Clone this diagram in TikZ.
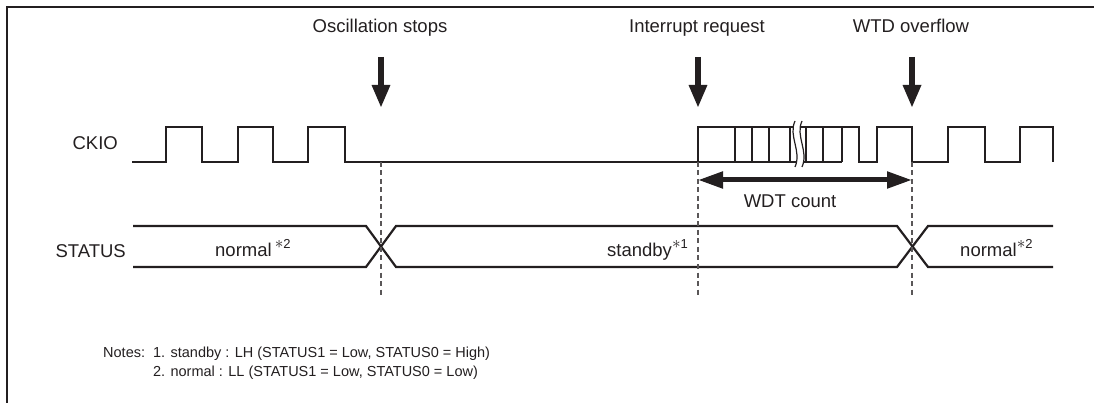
\documentclass[tikz,border=0pt]{standalone}
\usepackage{fontspec}
\setmainfont{Liberation Sans}
\usetikzlibrary{arrows.meta}
\definecolor{ink}{HTML}{231F20}
\newcommand{\notemark}[1]{\raisebox{0.42em}{{\fontsize{18}{18}\selectfont$\ast$}{\fontsize{13}{13}\selectfont #1}}}

\begin{document}
\begin{tikzpicture}[x=1pt, y=-1pt,
  wave/.style={draw=ink, line width=2.2pt},
  guide/.style={draw=ink!75, line width=1.2pt, dash pattern=on 5pt off 3.5pt},
  event/.style={draw=ink, line width=6pt,
                -{Triangle[length=23pt 0 0, width=17pt 0 0]}},
  span/.style={draw=ink, line width=5pt,
               {Triangle[length=25pt 0 0, width=16pt 0 0]}-{Triangle[length=25pt 0 0, width=16pt 0 0]}},
  every node/.style={text=ink, inner sep=0pt, font=\fontsize{18.5}{22}\selectfont}
]
  \useasboundingbox (0,0) rectangle (1094,403);

  % frame
  \draw[ink, line width=2.2pt] (1094,7) -- (7,7) -- (7,403);

  % event labels and arrows
  \node[anchor=base] (osc)  at (380,33) {Oscillation stops};
  \node[anchor=base] (irq)  at (697,33) {Interrupt request};
  \node[anchor=base] (wtd)  at (911,33) {WTD overflow};

  \coordinate (oscTop) at (381,57);  \coordinate (oscTip) at (381,108);
  \coordinate (irqTop) at (698,57);  \coordinate (irqTip) at (698,108);
  \coordinate (wtdTop) at (912,57);  \coordinate (wtdTip) at (912,108);

  \draw[event] (oscTop) -- (oscTip);
  \draw[event] (irqTop) -- (irqTip);
  \draw[event] (wtdTop) -- (wtdTip);

  % signal names
  \node[anchor=base east] (ckio) at (118,150) {CKIO};
  \node[anchor=base east] (stat) at (126,258) {STATUS};

  % CKIO waveform
  \draw[wave] (132,162) -- (166,162) -- (166,127) -- (202,127) -- (202,162)
    -- (238,162) -- (238,127) -- (273,127) -- (273,162)
    -- (308,162) -- (308,127) -- (345,127) -- (345,162)
    -- (698,162) -- (698,127) -- (859,127) -- (859,162)
    -- (877,162) -- (877,127) -- (912,127) -- (912,162)
    -- (948,162) -- (948,127) -- (985,127) -- (985,162)
    -- (1020,162) -- (1020,127) -- (1053,127) -- (1053,162);
  \draw[wave] (698,162) -- (842,162);
  \foreach \x in {735,752,769,790,806,823,842}
    \draw[wave] (\x,127) -- (\x,162);

  % break mark
  \fill[white] (795,121) .. controls (788,136) and (802,151) .. (795,167)
    -- (802,167) .. controls (809,151) and (795,136) .. (802,121) -- cycle;
  \draw[ink, line width=1.2pt] (795,121) .. controls (788,136) and (802,151) .. (795,167);
  \draw[ink, line width=1.2pt] (802,121) .. controls (795,136) and (809,151) .. (802,167);

  % STATUS waveform
  \draw[wave] (133,226) -- (366,226) -- (396,267) -- (897,267) -- (928,226) -- (1053,226);
  \draw[wave] (133,267) -- (366,267) -- (396,226) -- (897,226) -- (928,267) -- (1053,267);

  \node[anchor=base west] (norm1) at (215,256) {normal\,\notemark{2}};
  \node[anchor=base west] (stby)  at (607,256) {standby\notemark{1}};
  \node[anchor=base west] (norm2) at (960,256) {normal\notemark{2}};

  % timing guides
  \coordinate (g1a) at (381,162); \coordinate (g1b) at (381,295);
  \coordinate (g2a) at (698,162); \coordinate (g2b) at (698,295);
  \coordinate (g3a) at (912,162); \coordinate (g3b) at (912,295);
  \draw[guide] (g1a) -- (g1b);
  \draw[guide] (g2a) -- (g2b);
  \draw[guide] (g3a) -- (g3b);

  % WDT count
  \draw[span] (g2a |- 0,180) -- (g3a |- 0,180);
  \node[anchor=base] (wdt) at (790,208) {WDT count};

  % notes
  \node[anchor=base west, font=\fontsize{14.5}{19}\selectfont] (notes) at (103,357)
    {\begin{tabular}[t]{@{}l@{\ \ }l@{}}
      Notes: & 1. standby : LH (STATUS1 = Low, STATUS0 = High)\\
             & 2. normal : LL (STATUS1 = Low, STATUS0 = Low)
     \end{tabular}};
\end{tikzpicture}
\end{document}
